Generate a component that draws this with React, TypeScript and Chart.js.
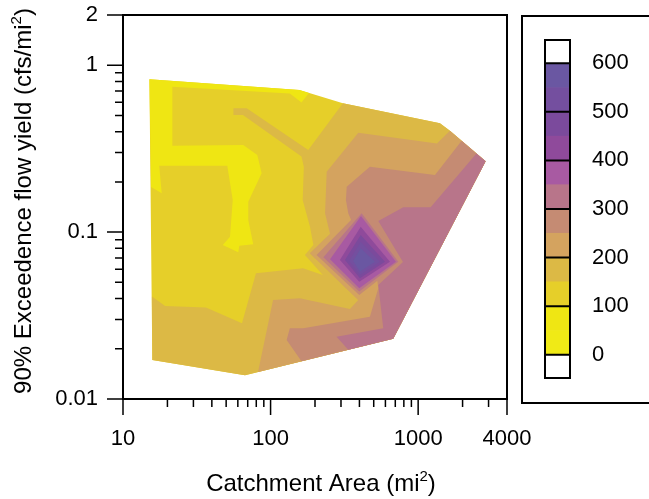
import React, { useEffect, useRef } from 'react';
import { Chart, registerables } from 'chart.js';

Chart.register(...registerables);

const FONT = '"Liberation Sans", Arial, Helvetica, sans-serif';

// Axis ticks
const xMajorTicks = [10, 100, 1000, 4000];
const xMinorTicks = [20, 30, 40, 50, 60, 70, 80, 90, 200, 300, 400, 500, 600, 700, 800, 900, 2000, 3000];
const yMajorTicks = [0.01, 0.1, 1, 2];
const yMinorTicks = [0.02, 0.03, 0.04, 0.05, 0.06, 0.07, 0.08, 0.09, 0.2, 0.3, 0.4, 0.5, 0.6, 0.7, 0.8, 0.9];

// Colour scale (lower bound of each 50-unit band)
const legendLevels = [0, 50, 100, 150, 200, 250, 300, 350, 400, 450, 500, 550];
const legendColors = ['#f0ea16', '#efe613', '#e6cf29', '#dcb945', '#d4a35f', '#c58b73', '#b8758a', '#a85aa2', '#8f4a9b', '#7b4a9c', '#744f9f', '#6a57a2'];
const legendTickLabels = [0, 100, 200, 300, 400, 500, 600];
const legendMin = -48;
const legendMax = 648;

// Contour regions: [catchment area (mi2), 90% exceedence yield (cfs/mi2)]
const hullOutline = [[15.1, 0.823], [157, 0.71], [309, 0.591], [1405, 0.449], [1642, 0.405], [2866, 0.2656], [678, 0.023], [67.1, 0.01387], [15.8, 0.01713]];
const lowYieldPatch = [[15.1, 0.823], [157, 0.71], [182, 0.682], [162, 0.598], [135, 0.677], [21.6, 0.743], [21.6, 0.3295], [65.3, 0.3326], [81.3, 0.2897], [87.0, 0.2251], [70.6, 0.1521], [70.6, 0.1182], [76.3, 0.0845], [61.4, 0.0829], [60.4, 0.0757], [47.4, 0.0837], [53.1, 0.0938], [55.4, 0.1557], [50.9, 0.2499], [17.6, 0.2499], [18.3, 0.1708], [15.5, 0.1863]];
const level150Region = [[309, 0.591], [1405, 0.449], [1642, 0.405], [2866, 0.2656], [678, 0.023], [67.1, 0.01387], [15.8, 0.01713], [15.7, 0.0411], [19.3, 0.0361], [36.5, 0.0354], [64.0, 0.0284], [79.6, 0.0566], [166, 0.0607], [226, 0.0553], [171, 0.0729], [195, 0.0837], [185, 0.1077], [165, 0.156], [168, 0.2465], [162, 0.284], [65.0, 0.503], [56.0, 0.503], [56.0, 0.552], [68.9, 0.552], [180, 0.31]];
const level200Region = [[1642, 0.405], [2866, 0.2656], [678, 0.023], [82.2, 0.01449], [104, 0.0392], [158, 0.0401], [345, 0.0346], [393, 0.0392], [185, 0.0746], [253, 0.0974], [234, 0.1296], [240, 0.23], [393, 0.394], [1341, 0.34]];
const level200Peak = [[185, 0.0746], [414, 0.1474], [814, 0.0665], [393, 0.0392]];
const level250Region = [[1971, 0.353], [2866, 0.2656], [678, 0.023], [336, 0.01972], [162, 0.01682], [128.5, 0.02257], [135, 0.0265], [166.5, 0.0265], [471, 0.0311], [537, 0.0461], [510, 0.0662], [356, 0.1149], [336, 0.1296], [324, 0.156], [328, 0.187], [471, 0.2465], [1300, 0.22]];
const level250Peak = [[205, 0.0729], [414, 0.137], [773, 0.0665], [399, 0.042]];
const level300Region = [[2483, 0.296], [2866, 0.2656], [678, 0.023], [336, 0.01972], [280, 0.0236], [580, 0.0265], [537, 0.0482], [789, 0.0662], [537, 0.1166], [793, 0.1408], [1215, 0.1408]];
const level300Peak = [[228, 0.0706], [414, 0.1296], [733, 0.0665], [399, 0.044]];
const level350Peak = [[253, 0.0687], [410, 0.1249], [707, 0.0665], [399, 0.0461]];
const level400Peak = [[295, 0.0681], [408, 0.1077], [644, 0.0665], [399, 0.0504]];
const level450Peak = [[319, 0.0681], [408, 0.0961], [596, 0.0665], [403, 0.0529]];
const level500Peak = [[341, 0.0674], [408, 0.0876], [551, 0.0665], [403, 0.0553]];
const level550Peak = [[363, 0.0671], [408, 0.08], [510, 0.0665], [403, 0.0579]];

const contourRegions = [
  { level: 100, points: hullOutline },
  { level: 50, points: lowYieldPatch },
  { level: 150, points: level150Region },
  { level: 200, points: level200Region },
  { level: 200, points: level200Peak },
  { level: 250, points: level250Region },
  { level: 250, points: level250Peak },
  { level: 300, points: level300Region },
  { level: 300, points: level300Peak },
  { level: 350, points: level350Peak },
  { level: 400, points: level400Peak },
  { level: 450, points: level450Peak },
  { level: 500, points: level500Peak },
  { level: 550, points: level550Peak },
];

const colorFor = (level: number) => legendColors[legendLevels.indexOf(level)];

const contourPlugin = {
  id: 'contourFill',
  beforeDatasetsDraw(chart: any) {
    const ctx = chart.ctx;
    const area = chart.chartArea;
    ctx.save();
    ctx.beginPath();
    ctx.rect(area.left, area.top, area.right - area.left, area.bottom - area.top);
    ctx.clip();
    chart.data.datasets.forEach((ds: any, i: number) => {
      const pts = chart.getDatasetMeta(i).data;
      if (!pts.length) return;
      ctx.beginPath();
      pts.forEach((p: any, j: number) => (j === 0 ? ctx.moveTo(p.x, p.y) : ctx.lineTo(p.x, p.y)));
      ctx.closePath();
      ctx.fillStyle = ds.backgroundColor;
      ctx.fill();
    });
    ctx.restore();
  },
};

function drawSupText(ctx: CanvasRenderingContext2D, parts: [string, boolean][], size: number) {
  const supSize = Math.round(size * 0.62);
  let total = 0;
  const widths = parts.map(([t, sup]) => {
    ctx.font = `${sup ? supSize : size}px ${FONT}`;
    const w = ctx.measureText(t).width;
    total += w;
    return w;
  });
  let x = -total / 2;
  parts.forEach(([t, sup], i) => {
    ctx.font = `${sup ? supSize : size}px ${FONT}`;
    ctx.fillText(t, x, sup ? -size * 0.42 : 0);
    x += widths[i];
  });
}

const framePlugin = {
  id: 'frameAndTitles',
  afterDraw(chart: any) {
    const ctx = chart.ctx;
    const a = chart.chartArea;
    const xs = chart.scales.x;
    const ys = chart.scales.y;
    ctx.save();
    ctx.strokeStyle = '#000';
    ctx.lineWidth = 1.5;
    ctx.beginPath();
    xMajorTicks.forEach((v) => { const px = xs.getPixelForValue(v); ctx.moveTo(px, a.bottom); ctx.lineTo(px, a.bottom + 16); });
    xMinorTicks.forEach((v) => { const px = xs.getPixelForValue(v); ctx.moveTo(px, a.bottom); ctx.lineTo(px, a.bottom + 8); });
    yMajorTicks.forEach((v) => { const py = ys.getPixelForValue(v); ctx.moveTo(a.left, py); ctx.lineTo(a.left - 16, py); });
    yMinorTicks.forEach((v) => { const py = ys.getPixelForValue(v); ctx.moveTo(a.left, py); ctx.lineTo(a.left - 8, py); });
    ctx.stroke();
    ctx.lineWidth = 2;
    ctx.strokeRect(a.left, a.top, a.right - a.left, a.bottom - a.top);

    ctx.fillStyle = '#000';
    ctx.textBaseline = 'alphabetic';
    ctx.save();
    ctx.translate((a.left + a.right) / 2 + 6, 491);
    drawSupText(ctx, [['Catchment Area (mi', false], ['2', true], [')', false]], 24);
    ctx.restore();
    ctx.save();
    ctx.translate(31, (a.top + a.bottom) / 2 - 6);
    ctx.rotate(-Math.PI / 2);
    drawSupText(ctx, [['90% Exceedence flow yield (cfs/mi', false], ['2', true], [')', false]], 24);
    ctx.restore();
    ctx.restore();
  },
};

const colorbarPlugin = {
  id: 'colorbarLines',
  afterDatasetsDraw(chart: any) {
    const ctx = chart.ctx;
    const a = chart.chartArea;
    const ys = chart.scales.y;
    ctx.save();
    ctx.strokeStyle = '#000';
    ctx.lineWidth = 2;
    ctx.beginPath();
    legendTickLabels.forEach((v) => { const py = ys.getPixelForValue(v); ctx.moveTo(a.left, py); ctx.lineTo(a.right, py); });
    ctx.stroke();
    ctx.strokeRect(a.left, a.top, a.right - a.left, a.bottom - a.top);
    ctx.restore();
  },
};

const noScalePadding = (s: any) => {
  s.paddingTop = 0;
  s.paddingBottom = 0;
  s.paddingLeft = 0;
  s.paddingRight = 0;
};

export default function App() {
  const mainRef = useRef<HTMLCanvasElement>(null);
  const barRef = useRef<HTMLCanvasElement>(null);

  useEffect(() => {
    const tickFont = { family: FONT, size: 22 };
    const main = new Chart(mainRef.current as HTMLCanvasElement, {
      type: 'scatter',
      data: {
        datasets: contourRegions.map((r) => ({
          data: r.points.map(([x, y]) => ({ x, y })),
          backgroundColor: colorFor(r.level),
          pointRadius: 0,
          showLine: false,
        })),
      },
      options: {
        animation: false,
        responsive: false,
        maintainAspectRatio: false,
        layout: { padding: { left: 0, right: 142, top: 15, bottom: 0 } },
        plugins: { legend: { display: false }, tooltip: { enabled: false } },
        scales: {
          x: {
            type: 'logarithmic',
            min: 10,
            max: 4000,
            grid: { display: false, drawTicks: false },
            border: { display: false },
            ticks: { font: tickFont, color: '#000', padding: 27, autoSkip: false, maxRotation: 0, minRotation: 0, callback: (v: any) => String(v) },
            afterBuildTicks: (s: any) => { s.ticks = xMajorTicks.map((v) => ({ value: v })); },
            afterFit: (s: any) => { s.height = 100; noScalePadding(s); },
          },
          y: {
            type: 'logarithmic',
            min: 0.01,
            max: 2,
            grid: { display: false, drawTicks: false },
            border: { display: false },
            ticks: { font: tickFont, color: '#000', padding: 25, autoSkip: false, callback: (v: any) => String(v) },
            afterBuildTicks: (s: any) => { s.ticks = yMajorTicks.map((v) => ({ value: v })); },
            afterFit: (s: any) => { s.width = 123; noScalePadding(s); },
          },
        },
      } as any,
      plugins: [contourPlugin, framePlugin],
    });

    const bar = new Chart(barRef.current as HTMLCanvasElement, {
      type: 'bar',
      data: {
        labels: [''],
        datasets: [
          { data: [legendMin], backgroundColor: '#ffffff' },
          ...legendLevels.map((lv, i) => ({ data: [legendLevels[i + 1] !== undefined ? legendLevels[i + 1] - lv : 600 - lv], backgroundColor: legendColors[i] })),
          { data: [legendMax - 600], backgroundColor: '#ffffff' },
        ].map((d) => ({ ...d, barPercentage: 1, categoryPercentage: 1, borderWidth: 0 })),
      },
      options: {
        animation: false,
        responsive: false,
        maintainAspectRatio: false,
        layout: { padding: { left: 22, right: 0, top: 23, bottom: 24 } },
        plugins: { legend: { display: false }, tooltip: { enabled: false } },
        scales: {
          x: { stacked: true, display: false },
          y: {
            stacked: true,
            position: 'right',
            min: legendMin,
            max: legendMax,
            grid: { display: false, drawTicks: false },
            border: { display: false },
            ticks: { font: { family: FONT, size: 22 }, color: '#000', padding: 22, autoSkip: false, callback: (v: any) => String(v) },
            afterBuildTicks: (s: any) => { s.ticks = legendTickLabels.map((v) => ({ value: v })); },
            afterFit: (s: any) => { s.width = 79; noScalePadding(s); },
          },
        },
      } as any,
      plugins: [colorbarPlugin],
    });

    return () => { main.destroy(); bar.destroy(); };
  }, []);

  return (
    <div style={{ position: 'absolute', left: 0, top: 0, width: 649, height: 499, overflow: 'hidden', background: '#fff' }}>
      <canvas ref={mainRef} width={649} height={499} style={{ position: 'absolute', left: 0, top: 0, width: 649, height: 499 }} />
      <div style={{ position: 'absolute', left: 521, top: 15, width: 128, height: 389, borderTop: '2px solid #000', borderLeft: '2px solid #000', borderBottom: '2px solid #000', boxSizing: 'border-box' }}>
        <canvas ref={barRef} width={126} height={385} style={{ position: 'absolute', left: 0, top: 0, width: 126, height: 385 }} />
      </div>
    </div>
  );
}
